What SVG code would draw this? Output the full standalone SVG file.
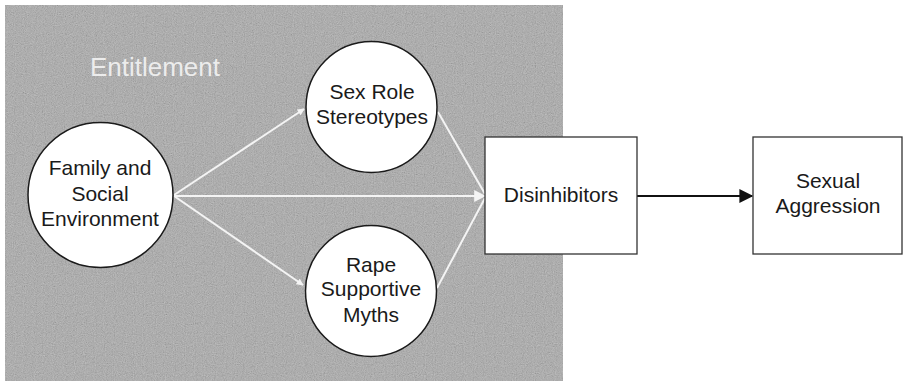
<svg xmlns="http://www.w3.org/2000/svg" width="904" height="385" viewBox="0 0 904 385">
  <defs>
    <style>
      .lbl { font-family: "Liberation Sans", Arial, sans-serif; font-size: 21px; fill: #1a1a1a; text-anchor: middle; }
      .node { fill: #ffffff; stroke: #1a1a1a; stroke-width: 1.5; }
      .box { fill: #ffffff; stroke: #333333; stroke-width: 1.3; }
      .wline { stroke: #f4f4f4; stroke-width: 2; fill: none; }
      .bline { stroke: #111111; stroke-width: 2.2; fill: none; }
    </style>
    <marker id="wa" viewBox="0 0 10 10" refX="9" refY="5" markerWidth="7" markerHeight="7" markerUnits="userSpaceOnUse" orient="auto">
      <path d="M0,0 L10,5 L0,10 Z" fill="#f4f4f4"/>
    </marker>
    <marker id="wa2" viewBox="0 0 10 10" refX="9" refY="5" markerWidth="12" markerHeight="12" markerUnits="userSpaceOnUse" orient="auto">
      <path d="M0,0 L10,5 L0,10 Z" fill="#f4f4f4"/>
    </marker>
    <marker id="ba" viewBox="0 0 10 10" refX="9" refY="5" markerWidth="16" markerHeight="14" markerUnits="userSpaceOnUse" orient="auto">
      <path d="M0,0 L10,5 L0,10 Z" fill="#111111"/>
    </marker>
    <filter id="noise" x="0" y="0" width="100%" height="100%">
      <feTurbulence type="fractalNoise" baseFrequency="0.9" numOctaves="2" seed="3" result="n"/>
      <feColorMatrix type="matrix" values="0.33 0.33 0.33 0 0  0.33 0.33 0.33 0 0  0.33 0.33 0.33 0 0  0 0 0 0 0.45" />
    </filter>
  </defs>

  <rect x="0" y="0" width="904" height="385" fill="#ffffff"/>

  <g id="entitlement-region">
    <rect x="5" y="5" width="558" height="376" fill="#a2a2a2"/>
    <rect x="5" y="5" width="558" height="376" filter="url(#noise)"/>
    <text x="155" y="76" style="font-family: 'Liberation Sans', Arial, sans-serif; font-size: 26px; fill: #ececec; text-anchor: middle;">Entitlement</text>
  </g>

  <g id="connectors">
    <line class="wline" x1="174" y1="195" x2="304" y2="109" marker-end="url(#wa)"/>
    <line class="wline" x1="174" y1="196" x2="303" y2="285" marker-end="url(#wa)"/>
    <line class="wline" x1="174" y1="196" x2="485" y2="196" marker-end="url(#wa2)"/>
    <line class="wline" x1="438" y1="112" x2="485" y2="194"/>
    <line class="wline" x1="437" y1="288" x2="485" y2="198"/>
    <line class="bline" x1="637" y1="196" x2="752" y2="196" marker-end="url(#ba)"/>
  </g>

  <g id="family">
    <circle class="node" cx="100.5" cy="195" r="72.5"/>
    <text class="lbl" x="100" y="175">Family and</text>
    <text class="lbl" x="100" y="201">Social</text>
    <text class="lbl" x="100" y="226">Environment</text>
  </g>

  <g id="sex-role">
    <circle class="node" cx="371.5" cy="107" r="65.5"/>
    <text class="lbl" x="372" y="99">Sex Role</text>
    <text class="lbl" x="372" y="124">Stereotypes</text>
  </g>

  <g id="rape-myths">
    <circle class="node" cx="371" cy="291" r="65.5"/>
    <text class="lbl" x="371" y="272">Rape</text>
    <text class="lbl" x="371" y="296">Supportive</text>
    <text class="lbl" x="371" y="322">Myths</text>
  </g>

  <g id="disinhibitors">
    <rect class="box" x="485" y="137" width="152" height="117"/>
    <text class="lbl" x="561" y="202">Disinhibitors</text>
  </g>

  <g id="sexual-aggression">
    <rect class="box" x="753" y="137" width="149" height="117"/>
    <text class="lbl" x="828" y="188">Sexual</text>
    <text class="lbl" x="828" y="213">Aggression</text>
  </g>
</svg>
